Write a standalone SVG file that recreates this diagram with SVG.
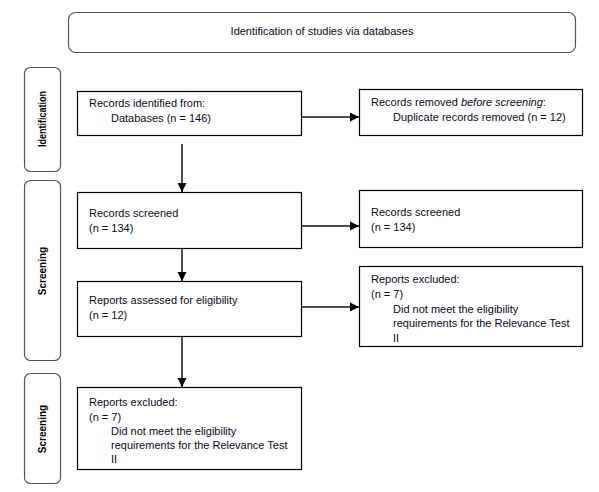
<svg xmlns="http://www.w3.org/2000/svg" width="599" height="492" viewBox="0 0 599 492">
<defs>
<marker id="ah" markerWidth="10" markerHeight="10" refX="9" refY="5" orient="auto" markerUnits="userSpaceOnUse">
<path d="M0,0.5 L9,5 L0,9.5 Z" fill="#000"/>
</marker>
<style>
.box{fill:#fff;stroke:#000;stroke-width:1.2}
.side{fill:#fff;stroke:#555;stroke-width:1.2}
.t{font-family:"Liberation Sans",Arial,sans-serif;font-size:11px;fill:#0a0a1a}
.s{font-family:"Liberation Sans",Arial,sans-serif;font-size:10px;font-weight:bold;fill:#000}
.c{stroke:#111;stroke-width:1.5;fill:none}
</style>
</defs>
<rect width="599" height="492" fill="#fff"/>
<g id="title">
<rect x="68.5" y="12.5" width="507" height="40" rx="7" class="side"/>
<text x="322" y="35" text-anchor="middle" class="t">Identification of studies via databases</text>
</g>
<g id="lbl-identification">
<rect x="24.5" y="67.5" width="36" height="104" rx="6" class="side"/>
<text transform="translate(46,119) rotate(-90)" text-anchor="middle" class="s" textLength="56" lengthAdjust="spacingAndGlyphs">Identification</text>
</g>
<g id="lbl-screening1">
<rect x="24.5" y="180.5" width="36" height="180" rx="6" class="side"/>
<text transform="translate(46,271) rotate(-90)" text-anchor="middle" class="s">Screening</text>
</g>
<g id="lbl-screening2">
<rect x="24.5" y="373.5" width="36" height="110" rx="6" class="side"/>
<text transform="translate(46,429) rotate(-90)" text-anchor="middle" class="s">Screening</text>
</g>
<g id="n-identified">
<rect x="77.5" y="91.5" width="224" height="44" class="box"/>
<text class="t"><tspan x="89" y="107">Records identified from:</tspan><tspan x="111" y="122">Databases (n = 146)</tspan></text>
</g>
<g id="n-removed">
<rect x="359.5" y="89.5" width="223" height="46" class="box"/>
<text class="t"><tspan x="371" y="106">Records removed <tspan font-style="italic">before screening</tspan>:</tspan><tspan x="393" y="121">Duplicate records removed  (n = 12)</tspan></text>
</g>
<g id="n-screened">
<rect x="77.5" y="192.5" width="224" height="56" class="box"/>
<text class="t"><tspan x="89" y="217">Records screened</tspan><tspan x="89" y="232">(n = 134)</tspan></text>
</g>
<g id="n-screened-r">
<rect x="359.5" y="190.5" width="223" height="57" class="box"/>
<text class="t"><tspan x="371" y="216">Records screened</tspan><tspan x="371" y="231">(n = 134)</tspan></text>
</g>
<g id="n-assessed">
<rect x="77.5" y="281.5" width="224" height="55" class="box"/>
<text class="t"><tspan x="89" y="304">Reports assessed for eligibility</tspan><tspan x="89" y="319">(n = 12)</tspan></text>
</g>
<g id="n-excluded-r">
<rect x="359.5" y="266.5" width="223" height="80" class="box"/>
<text class="t"><tspan x="371" y="283">Reports excluded:</tspan><tspan x="371" y="298">(n = 7)</tspan><tspan x="393" y="313">Did not meet the eligibility</tspan><tspan x="393" y="327">requirements for the Relevance Test</tspan><tspan x="393" y="342">II</tspan></text>
</g>
<g id="n-excluded">
<rect x="77.5" y="387.5" width="224" height="82" class="box"/>
<text class="t"><tspan x="89" y="406">Reports excluded:</tspan><tspan x="89" y="421">(n = 7)</tspan><tspan x="111" y="435">Did not meet the eligibility</tspan><tspan x="111" y="449">requirements for the Relevance Test</tspan><tspan x="111" y="463">II</tspan></text>
</g>
<g id="connectors">
<line x1="302" y1="117" x2="359" y2="117" class="c" marker-end="url(#ah)"/>
<line x1="182" y1="144" x2="182" y2="192" class="c" marker-end="url(#ah)"/>
<line x1="302" y1="226" x2="359" y2="226" class="c" marker-end="url(#ah)"/>
<line x1="182" y1="249" x2="182" y2="281" class="c" marker-end="url(#ah)"/>
<line x1="302" y1="307" x2="359" y2="307" class="c" marker-end="url(#ah)"/>
<line x1="182" y1="337" x2="182" y2="387" class="c" marker-end="url(#ah)"/>
</g>
</svg>
